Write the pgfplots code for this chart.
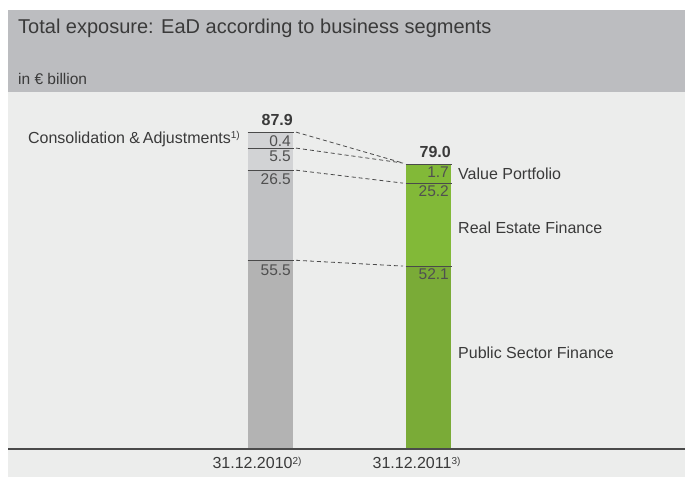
\documentclass[border=0pt]{standalone}
\usepackage{pgfplots}
\pgfplotsset{compat=1.18}
\usepackage{fontspec}
\setmainfont{Liberation Sans}
\definecolor{header}{HTML}{BCBDC0}
\definecolor{panel}{HTML}{ECEDEC}
\definecolor{gA}{HTML}{B3B3B3}
\definecolor{gB}{HTML}{C0C1C3}
\definecolor{gC}{HTML}{D2D3D5}
\definecolor{grA}{HTML}{7AAB37}
\definecolor{grB}{HTML}{82B938}
\definecolor{txt}{HTML}{3A3A3A}
\definecolor{val}{HTML}{505050}
\definecolor{rule}{HTML}{4A4A4A}
\newcommand{\lbl}{\fontsize{16bp}{19bp}\selectfont}
\newcommand{\fn}[1]{{\fontsize{10bp}{12bp}\selectfont\raisebox{4.5bp}{#1}}}
\begin{document}
\begin{tikzpicture}
\fill[white] (0,0) rectangle (685bp,477bp);
\fill[panel] (8bp,0) rectangle (685bp,385bp);
\fill[header] (8bp,385bp) rectangle (685bp,467bp);
\begin{axis}[
  at={(8bp,28bp)}, anchor=south west,
  scale only axis, width=677bp, height=357bp,
  xmin=8, xmax=685, ymin=0, ymax=105,
  hide axis, clip=false,
]
% cumulative segment tops, tallest first so the lower ones lie on top
% 31.12.2010: 55.5 / 26.5 / 5.5 / 0.4
\addplot[ybar, bar width=45, bar shift=0pt, fill=gC, draw=none] coordinates {(270.5,93.2)};
\addplot[ybar, bar width=45, bar shift=0pt, fill=gC, draw=none] coordinates {(270.5,88.5)};
\addplot[ybar, bar width=45, bar shift=0pt, fill=gB, draw=none] coordinates {(270.5,82.0)};
\addplot[ybar, bar width=45, bar shift=0pt, fill=gA, draw=none] coordinates {(270.5,55.5)};
% 31.12.2011: 52.1 / 25.2 / 1.7
\addplot[ybar, bar width=45, bar shift=0pt, fill=grB, draw=none] coordinates {(428.5,83.8)};
\addplot[ybar, bar width=45, bar shift=0pt, fill=grB, draw=none] coordinates {(428.5,78.2)};
\addplot[ybar, bar width=45, bar shift=0pt, fill=grA, draw=none] coordinates {(428.5,53.8)};
% segment dividers
\foreach \h in {93.2,88.5,82.0,55.5}{
  \edef\tmp{\noexpand\addplot[rule, line width=1bp] coordinates {(247.5,\h) (293.5,\h)};}\tmp
}
\foreach \h in {83.8,78.2,53.8}{
  \edef\tmp{\noexpand\addplot[rule, line width=1bp] coordinates {(405.5,\h) (451.5,\h)};}\tmp
}
% connectors
\addplot[rule, line width=0.8bp, dash pattern=on 4bp off 3bp] coordinates {(296,93.2) (403,84.1)};
\addplot[rule, line width=0.8bp, dash pattern=on 4bp off 3bp] coordinates {(296,88.5) (403,84.1)};
\addplot[rule, line width=0.8bp, dash pattern=on 4bp off 3bp] coordinates {(296,82.0) (403,78.2)};
\addplot[rule, line width=0.8bp, dash pattern=on 4bp off 3bp] coordinates {(296,55.5) (403,53.8)};
\draw[rule, line width=1.3bp] (axis cs:8,0) -- (axis cs:685,0);
% value labels
\begin{scope}[every node/.style={inner sep=0pt, font=\fontsize{15.5bp}{18bp}\selectfont, text=val}]
\node[anchor=east] at (axis cs:291,90.6) {0.4};
\node[anchor=east] at (axis cs:291,86.0) {5.5};
\node[anchor=east] at (axis cs:291,79.5) {26.5};
\node[anchor=east] at (axis cs:291,52.7) {55.5};
\node[anchor=east] at (axis cs:449,81.3) {1.7};
\node[anchor=east] at (axis cs:449,75.7) {25.2};
\node[anchor=east] at (axis cs:449,51.3) {52.1};
\end{scope}
\begin{scope}[every node/.style={inner sep=0pt, text=txt}]
\node[anchor=east, font=\fontsize{16bp}{19bp}\selectfont\bfseries] at (axis cs:293,96.8) {87.9};
\node[anchor=east, font=\fontsize{16bp}{19bp}\selectfont\bfseries] at (axis cs:451,87.4) {79.0};
\node[anchor=west, font=\lbl] at (axis cs:458,80.9) {Value Portfolio};
\node[anchor=west, font=\lbl] at (axis cs:458,65.0) {Real Estate Finance};
\node[anchor=west, font=\lbl] at (axis cs:458,28.2) {Public Sector Finance};
\node[anchor=east, font=\lbl] at (axis cs:240,91.2) {Consolidation \&\,Adjustments\fn{1)}};
\node[font=\lbl] at (axis cs:257,-4.1) {31.12.2010\fn{2)}};
\node[font=\lbl] at (axis cs:416.5,-4.1) {31.12.2011\fn{3)}};
\node[anchor=west, font=\fontsize{20bp}{24bp}\selectfont] at (axis cs:18,123.6) {Total exposure: EaD according to business segments};
\node[anchor=west, font=\fontsize{15.5bp}{18bp}\selectfont] at (axis cs:18,108.8) {in € billion};
\end{scope}
\end{axis}
\pgfresetboundingbox
\path (0,0) rectangle (685bp,477bp);
\end{tikzpicture}
\end{document}
